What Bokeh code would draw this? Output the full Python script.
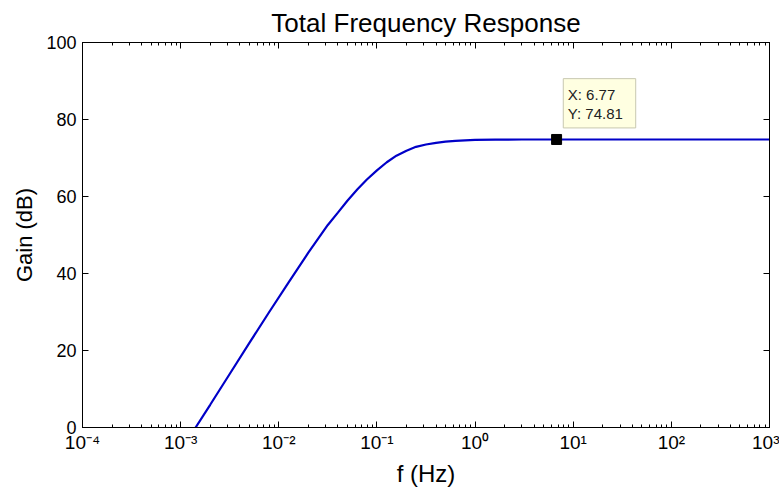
import numpy as np
from bokeh.plotting import figure
from bokeh.models import (LogAxis, LinearAxis, Range1d, CustomJSTickFormatter,
                          FixedTicker, LogTicker, ColumnDataSource)
from bokeh.core.properties import value
from bokeh.embed import file_html
from bokeh.resources import INLINE

# ---- data ----
freq_hz = [0.00142, 0.002, 0.00316, 0.005, 0.0079, 0.0126, 0.02, 0.0316, 0.04,
           0.05, 0.063, 0.079, 0.1, 0.126, 0.158, 0.2, 0.25, 0.316, 0.4, 0.5,
           0.63, 0.79, 1.0, 1.6, 3.0, 6.77, 20.0, 100.0, 1000.0]
gain_db = [0.0, 5.9, 13.9, 21.9, 29.8, 37.7, 45.4, 52.6, 55.8,
           58.9, 61.8, 64.4, 66.8, 68.9, 70.6, 71.9, 72.9, 73.5, 73.95, 74.25,
           74.45, 74.6, 74.7, 74.77, 74.8, 74.81, 74.81, 74.81, 74.81]
tip_freq = [6.77]
tip_gain = [74.81]
y_ticks = [0, 20, 40, 60, 80, 100]
x_decades = [1e-4, 1e-3, 1e-2, 1e-1, 1e0, 1e1, 1e2, 1e3]

FONT = "Liberation Sans"

p = figure(width=779, height=492, x_axis_type="log",
           x_range=Range1d(1e-4, 1e3), y_range=Range1d(0, 100),
           output_backend="svg", toolbar_location=None,
           min_border_left=82, min_border_right=10,
           min_border_top=42, min_border_bottom=65,
           title="Total Frequency Response")

p.background_fill_color = "white"
p.border_fill_color = "white"
p.outline_line_color = "black"
p.outline_line_width = 1
p.xgrid.visible = False
p.ygrid.visible = False

p.title.align = "center"
p.title.text_font = FONT
p.title.text_font_size = "26px"
p.title.text_font_style = "normal"
p.title.text_color = "black"
p.title.standoff = 10

sup_js = """
const sup = {'-':'\u207b','0':'\u2070','1':'\u00b9','2':'\u00b2','3':'\u00b3',
             '4':'\u2074','5':'\u2075','6':'\u2076','7':'\u2077','8':'\u2078','9':'\u2079'};
const e = Math.round(Math.log10(tick));
return '10' + String(e).split('').map(c => sup[c]).join('');
"""

def style_axis(ax, show_labels):
    ax.axis_line_color = "black"
    ax.major_tick_in = 6
    ax.major_tick_out = 0
    ax.minor_tick_in = 3
    ax.minor_tick_out = 0
    ax.major_tick_line_color = "black"
    ax.minor_tick_line_color = "black"
    ax.major_label_text_font = FONT
    ax.major_label_text_color = "black"
    if show_labels:
        ax.major_label_text_font_size = "18px"
    else:
        ax.major_label_text_font_size = "0px"
        ax.major_label_standoff = 0

# bottom x axis
xa = p.xaxis[0]
xa.ticker = LogTicker(desired_num_ticks=8, num_minor_ticks=10)
xa.formatter = CustomJSTickFormatter(code=sup_js)
style_axis(xa, True)
xa.major_label_text_font_size = "19px"
xa.major_label_standoff = 4
xa.axis_label = "f (Hz)"
xa.axis_label_text_font = FONT
xa.axis_label_text_font_size = "24px"
xa.axis_label_text_font_style = "normal"
xa.axis_label_text_color = "black"
xa.axis_label_standoff = 4

# left y axis
ya = p.yaxis[0]
ya.ticker = FixedTicker(ticks=y_ticks)
style_axis(ya, True)
ya.major_label_standoff = 6
ya.axis_label = "Gain (dB)"
ya.axis_label_text_font = FONT
ya.axis_label_text_font_size = "22px"
ya.axis_label_text_font_style = "normal"
ya.axis_label_text_color = "black"
ya.axis_label_standoff = 6

# top & right box axes (ticks only)
top = LogAxis(ticker=LogTicker(desired_num_ticks=8, num_minor_ticks=10),
              formatter=CustomJSTickFormatter(code="return ''"))
style_axis(top, False)
p.add_layout(top, "above")
right = LinearAxis(ticker=FixedTicker(ticks=y_ticks),
                   formatter=CustomJSTickFormatter(code="return ''"))
style_axis(right, False)
p.add_layout(right, "right")

# curve
src = ColumnDataSource(dict(f=freq_hz, g=gain_db))
p.line("f", "g", source=src, line_color="#0000c8", line_width=2.2)

# data tip
tf = tip_freq[0]
tg = tip_gain[0]
p.quad(left=[tf * 1.17], right=[tf * 6.4], bottom=[tg + 3.0], top=[tg + 15.8],
       fill_color="#ffffe1", line_color="#c8c8b0", line_width=1)
p.text(x=[tf * 1.3, tf * 1.3], y=[tg + 11.8, tg + 6.8],
       text=["X: %.2f" % tf, "Y: %.2f" % tg],
       text_font=value(FONT), text_font_size="15px",
       text_color="#222222", text_baseline="middle", text_align="left")
p.scatter(tip_freq, tip_gain, marker="square", size=10,
          fill_color="black", line_color="black")

open("out.html", "w").write(file_html(p, INLINE))
